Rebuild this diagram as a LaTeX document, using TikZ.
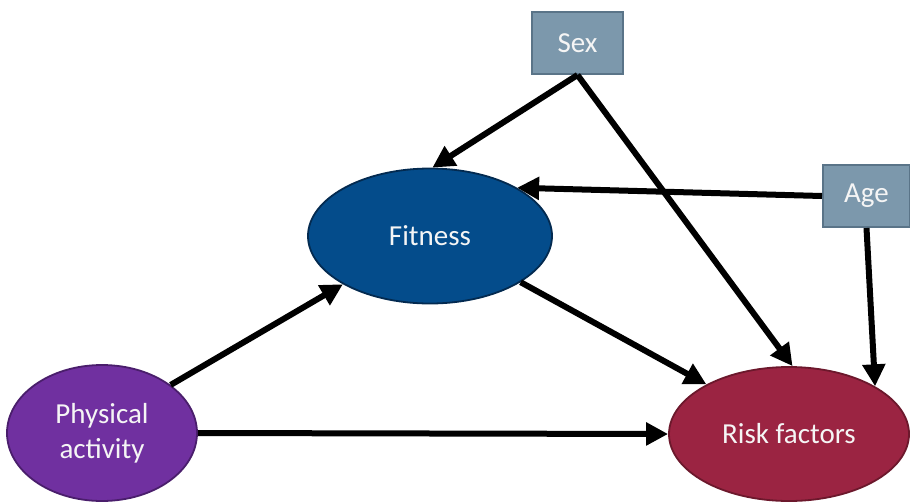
\documentclass[tikz,border=0pt]{standalone}
\usepackage{fontspec}
\setmainfont{Carlito}
\usetikzlibrary{shapes.geometric,arrows.meta}
\definecolor{fitfill}{RGB}{4,76,139}
\definecolor{fitline}{RGB}{3,42,80}
\definecolor{pafill}{RGB}{112,48,160}
\definecolor{paline}{RGB}{74,30,108}
\definecolor{riskfill}{RGB}{155,36,66}
\definecolor{riskline}{RGB}{108,24,44}
\definecolor{boxfill}{RGB}{124,152,172}
\definecolor{boxline}{RGB}{90,116,136}
\definecolor{txt}{RGB}{245,245,245}
\begin{document}
\begin{tikzpicture}[x=1pt,y=-1pt,
  ell/.style={ellipse,line width=1.8pt,inner sep=0pt,text=txt,align=center,
    font=\fontsize{29}{35}\selectfont},
  boxn/.style={rectangle,draw=boxline,fill=boxfill,line width=2pt,inner sep=0pt,
    text=txt,font=\fontsize{29}{34}\selectfont},
  conn/.style={line width=6pt,-{Triangle[length=22pt,width=22pt]}}]
\useasboundingbox (0,0) rectangle (910,501);
\node[ell,fill=fitfill,draw=fitline,minimum width=244pt,minimum height=135pt] (fit) at (430,236) {Fitness};
\node[ell,fill=pafill,draw=paline,minimum width=190pt,minimum height=136pt] (pa) at (102,433) {Physical\\activity};
\node[ell,fill=riskfill,draw=riskline,minimum width=240pt,minimum height=134pt] (risk) at (789,434) {Risk factors};
\node[boxn,minimum width=91pt,minimum height=62pt] (sex) at (577.5,43) {Sex};
\node[boxn,minimum width=87pt,minimum height=62pt] (age) at (866.5,196) {Age};
\draw[conn] (sex.south) -- (fit.88);
\draw[conn] (sex.south) -- (risk.87);
\draw[conn] (age.west) -- (fit.29);
\draw[conn] (age.south) -- (risk.29);
\draw[conn] (fit.-27) -- (risk.149);
\draw[conn] (pa.35) -- (fit.209);
\draw[conn] (pa.east) -- (risk.west);
\end{tikzpicture}
\end{document}
